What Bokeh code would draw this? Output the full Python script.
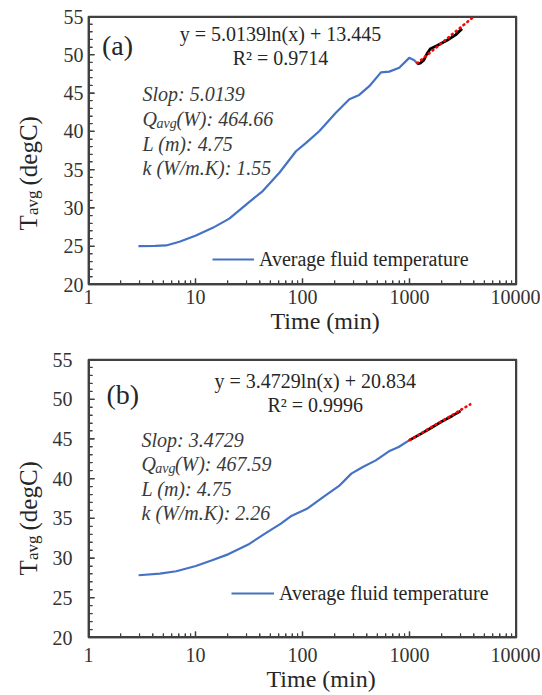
from bokeh.plotting import figure
from bokeh.models import (Label, Title, FixedTicker, SingleIntervalTicker,
                          PrintfTickFormatter, Range1d)
from bokeh.core.properties import value
from bokeh.layouts import column
from bokeh.embed import file_html
from bokeh.resources import INLINE
import math

FONT = "Liberation Serif"

# ---------------- data: panel (a) ----------------
a_time = [2.93, 4.2, 5.31, 7.08, 10.1, 14.5, 20.7, 31.9, 42.5, 60.8, 86.9, 108,
          144, 206, 274, 339, 421, 541, 647, 802, 995, 1107, 1180]
a_temp = [25.0, 25.05, 25.1, 25.58, 26.4, 27.4, 28.6, 30.8, 32.2, 34.6, 37.4, 38.5,
          40.05, 42.45, 44.2, 44.76, 45.9, 47.7, 47.8, 48.3, 49.6, 49.3, 48.85]
a_fit_time = [1180, 1260, 1360, 1463, 1572, 1815, 2250, 2700, 3095]
a_fit_temp = [48.8, 48.9, 49.3, 50.2, 50.8, 51.2, 51.9, 52.6, 53.4]
a_trend_time = [1180, 4000]
a_trend_temp = [48.9, 55.0]
a_eq = ["y = 5.0139ln(x) + 13.445", "R\u00b2 = 0.9714"]
a_info = ["Slop: 5.0139", "(W): 464.66", "L (m): 4.75", "k (W/m.K): 1.55"]

# ---------------- data: panel (b) ----------------
b_time = [2.94, 4.64, 6.6, 10.07, 14.3, 20.4, 31.1, 44.2, 62.8, 77.6, 110, 157,
          223, 286, 366, 484, 642, 792, 1000]
b_temp = [27.84, 28.05, 28.34, 29.0, 29.73, 30.5, 31.7, 33.04, 34.34, 35.26, 36.2,
          37.7, 39.16, 40.63, 41.47, 42.3, 43.44, 43.98, 44.85]
b_fit_time = [1000, 1300, 1600, 2000, 2500, 3000]
b_fit_temp = [44.85, 45.7, 46.4, 47.2, 47.9, 48.5]
b_trend_time = [1000, 3700]
b_trend_temp = [44.85, 49.35]
b_eq = ["y = 3.4729ln(x) + 20.834", "R\u00b2 = 0.9996"]
b_info = ["Slop: 3.4729", "(W): 467.59", "L (m): 4.75", "k (W/m.K): 2.26"]

x_ticks = [1, 10, 100, 1000, 10000]
y_lim = (20, 55)
y_step = 5
legend_text = "Average fluid temperature"
x_title = "Time (min)"

AXC = "#404040"
TXT = "#262626"
W = 540


def vlab(p, text, cx, cy, size, side):
    """Rotated label outside the frame, in canvas pixels."""
    p.add_layout(Label(x=cx, y=cy, x_units="canvas", y_units="canvas",
                       text=text, text_font=FONT, text_font_size=size,
                       text_color=TXT, text_align="left",
                       text_baseline="alphabetic", angle=math.pi / 2), side)


def panel(tag, t, T, ft, fT, tt, tT, eq, info, H, bl, br, bt, bb, cfg):
    p = figure(width=W, height=H, x_axis_type="log",
               x_range=Range1d(1, 10000), y_range=Range1d(*y_lim),
               output_backend="svg", toolbar_location=None,
               min_border_left=bl, min_border_right=br,
               min_border_top=bt, min_border_bottom=bb)
    p.xgrid.visible = False
    p.ygrid.visible = False
    p.outline_line_color = AXC
    p.outline_line_width = 1.5

    fw = W - bl - br
    fh = H - bt - bb
    dec = fw / 4.0
    unit = fh / float(y_lim[1] - y_lim[0])

    def at(dx, dy):
        # pixel offset from the frame's bottom-left -> data position
        return 10 ** (dx / dec), y_lim[0] + dy / unit

    def txt(dx, dy, s, size, align="left", style="normal", color=TXT):
        x, y = at(dx, dy)
        p.text(x=[x], y=[y], text=[s], text_font=value(FONT),
               text_font_size=value(size), text_align=align,
               text_baseline="middle", text_font_style=style,
               text_color=color)

    x_minor = [m * 10 ** d for d in range(4) for m in range(2, 10)]
    y_major = list(range(y_lim[0], y_lim[1] + 1, y_step))
    y_minor = [v for v in range(y_lim[0], y_lim[1] + 1) if v % y_step]
    p.xaxis.ticker = FixedTicker(ticks=x_ticks, minor_ticks=x_minor)
    p.xaxis.formatter = PrintfTickFormatter(format="%d")
    p.yaxis.ticker = SingleIntervalTicker(interval=y_step, num_minor_ticks=5)
    for ax in (p.xaxis, p.yaxis):
        ax.axis_line_color = AXC
        ax.axis_line_width = 1.5
        ax.major_tick_line_color = AXC
        ax.minor_tick_line_color = AXC
        ax.major_tick_in = 6
        ax.major_tick_out = 0
        ax.minor_tick_in = 4
        ax.minor_tick_out = 0
        ax.major_label_text_font = FONT
        ax.major_label_text_font_size = "20px"
        ax.major_label_text_color = "#333333"
    if cfg["standoff"]:
        p.xaxis.major_label_standoff = 10
        p.yaxis.major_label_standoff = 16

    # texts inside the frame (drawn first)
    txt(cfg["tag"][0], cfg["tag"][1], tag, "28px", align="center")
    txt(cfg["eq"][0], cfg["eq"][1], eq[0], "20px", align="center")
    txt(cfg["eq"][0], cfg["eq"][1] - 24, eq[1], "20px", align="center")
    dx = 54
    ys = cfg["info"]
    ic = "#3a3a3a"
    txt(dx, ys[0], info[0], "20px", style="italic", color=ic)
    txt(dx, ys[1], "Q", "20px", style="italic", color=ic)
    txt(dx + 14, ys[1] - 5, "avg", "14px", style="italic", color=ic)
    txt(dx + 34, ys[1], info[1], "20px", style="italic", color=ic)
    txt(dx, ys[2], info[2], "20px", style="italic", color=ic)
    txt(dx, ys[3], info[3], "20px", style="italic", color=ic)

    # frame box and inward tick marks on the frame edges
    p.quad(left=[1], right=[10000], bottom=[y_lim[0]], top=[y_lim[1]],
           fill_color=None, line_color=AXC, line_width=3)
    p.scatter(x_ticks, [y_lim[0]] * len(x_ticks), marker="dash", size=12,
              angle=math.pi / 2, line_color=AXC, line_width=1.5)
    p.scatter(x_minor, [y_lim[0]] * len(x_minor), marker="dash", size=8,
              angle=math.pi / 2, line_color=AXC, line_width=1.2)
    p.scatter([1] * len(y_major), y_major, marker="dash", size=12,
              line_color=AXC, line_width=1.5)
    p.scatter([1] * len(y_minor), y_minor, marker="dash", size=8,
              line_color=AXC, line_width=1.2)

    # data
    p.line(t, T, color="#4472C4", line_width=2.2, legend_label=legend_text)
    p.line(ft, fT, color="black", line_width=2.8)
    p.line(tt, tT, color="#FF0000", line_width=2.6, line_dash="1 4",
           line_cap="round")

    lg = p.legend[0]
    lg.location = cfg["leg"]
    lg.border_line_color = None
    lg.background_fill_alpha = 0
    lg.padding = 0
    lg.margin = 0
    lg.glyph_width = cfg["gw"]
    lg.glyph_height = 24
    lg.label_height = 24
    lg.label_standoff = 5
    lg.label_text_font = FONT
    lg.label_text_font_size = "20px"
    lg.label_text_color = TXT

    # y axis title "T_avg (degC)", rotated, split over side panels
    y0 = cfg["ylab"]
    vlab(p, "(degC)", 28, y0 - 45, "25px", "left")
    vlab(p, "T", 28, y0, "25px", "above")
    vlab(p, "avg", 32, y0 - 15.5, "17px", "right")

    # x axis title
    p.add_layout(Title(text=x_title, align="left", offset=cfg["xt"],
                       standoff=0, vertical_align="middle", text_font=FONT,
                       text_font_size="24px", text_font_style="normal",
                       text_color=TXT), "below")
    return p


pa = panel("(a)", a_time, a_temp, a_fit_time, a_fit_temp, a_trend_time,
           a_trend_temp, a_eq, a_info, 343, 88, 24, 16, 59,
           dict(leg=(124, 13), gw=42, tag=(29, 239), eq=(192, 251),
                info=[191, 166, 141, 117], ylab=230, xt=182, standoff=False))
pb = panel("(b)", b_time, b_temp, b_fit_time, b_fit_temp, b_trend_time,
           b_trend_temp, b_eq, b_info, 351, 83, 21, 16, 57,
           dict(leg=(143, 32), gw=43, tag=(35, 243), eq=(231, 257),
                info=[198, 174, 149, 125], ylab=232, xt=178, standoff=True))

layout = column(pa, pb)
open("out.html", "w").write(file_html(layout, INLINE))
